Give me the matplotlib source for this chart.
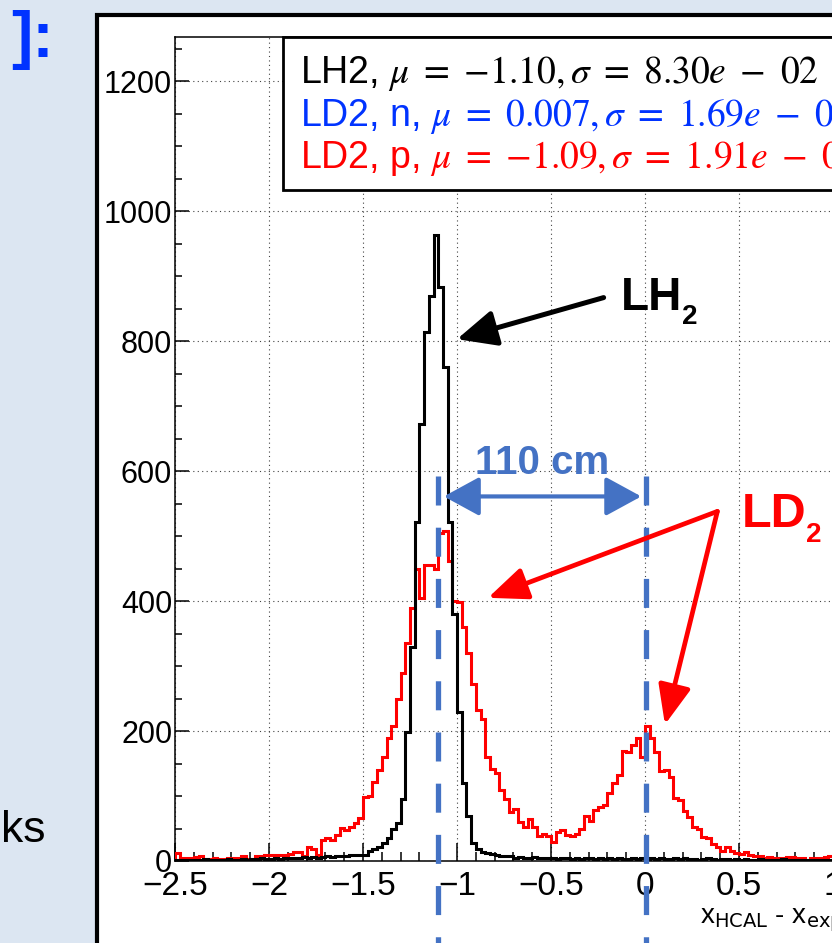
import numpy as np
import matplotlib.pyplot as plt
from matplotlib.patches import Rectangle
from matplotlib.ticker import MultipleLocator, FuncFormatter

plt.rcParams['mathtext.fontset'] = 'custom'
plt.rcParams['mathtext.rm'] = 'Liberation Sans Narrow'
plt.rcParams['mathtext.it'] = 'Liberation Sans Narrow:italic'

# histogram binning of x_HCAL - x_expect
bin_lo = -2.5
bin_w = 0.025

# LH2 counts per bin, -2.5 .. 1.0
lh2_counts = [
    2, 1, 2, 2, 1, 2, 3, 2, 1, 2, 2, 3, 2, 2, 3, 2, 3, 3, 4, 3,
    3, 4, 3, 4, 5, 4, 5, 6, 5, 6, 5, 6, 7, 6, 7, 8, 8, 9, 10, 10,
    10, 15, 18, 22, 28, 35, 50, 58, 95, 199, 330, 521, 672, 814, 870, 963, 883, 760, 522, 380,
    230, 120, 70, 28, 18, 14, 12, 11, 9, 8, 7, 8, 5, 6, 5, 4, 6, 5, 4, 5,
    4, 3, 5, 4, 3, 4, 3, 4, 5, 3, 4, 3, 4, 3, 4, 3, 3, 4, 3, 4,
    3, 4, 3, 4, 3, 3, 4, 3, 4, 3, 3, 2, 3, 4, 3, 2, 3, 3, 2, 3,
    2, 3, 2, 2, 3, 2, 2, 1, 2, 3, 2, 2, 1, 2, 2, 1, 2, 2, 1, 2,
]

# LD2 counts per bin (p peak + n peak), -2.5 .. 1.0
ld2_counts = [
    12, 5, 5, 4, 6, 7, 3, 3, 5, 3, 3, 4, 5, 5, 7, 3, 3, 7, 7, 10,
    10, 9, 10, 10, 11, 14, 14, 8, 22, 18, 10, 32, 35, 33, 40, 51, 47, 53, 58, 66,
    98, 100, 122, 140, 160, 190, 207, 250, 290, 335, 390, 450, 405, 455, 455, 450, 505, 508, 462, 400,
    398, 360, 320, 272, 232, 218, 160, 142, 135, 110, 95, 75, 80, 60, 52, 64, 52, 38, 41, 38,
    30, 45, 47, 40, 38, 42, 50, 70, 62, 78, 83, 86, 105, 120, 133, 170, 168, 178, 190, 160,
    207, 190, 168, 138, 140, 130, 97, 94, 77, 68, 52, 50, 37, 36, 26, 22, 15, 22, 15, 13,
    11, 14, 9, 8, 7, 5, 6, 5, 5, 5, 6, 6, 5, 4, 2, 5, 5, 5, 6, 8,
]

# fit results
lh2_mu = -1.10
ld2n_mu = 0.007
fit_lines = [
    (r'LH2, $\mu\ =\ {-}1.10, \sigma\ =\ 8.30e\ -\ 02$', 'black'),
    (r'LD2, n, $\mu\ =\ 0.007, \sigma\ =\ 1.69e\ -\ 01$', '#0033FF'),
    (r'LD2, p, $\mu\ =\ {-}1.09, \sigma\ =\ 1.91e\ -\ 01$', '#FF0000'),
]

blue = '#4472C4'
narrow = ['Liberation Sans Narrow', 'Liberation Sans', 'DejaVu Sans']

fig = plt.figure(figsize=(8.32, 9.43), dpi=100)
fig.patch.set_facecolor('#DCE6F2')

# white slide panel behind the ROOT canvas
fig.add_artist(Rectangle((97 / 832, -0.1), 1.0, 1.1 - 15 / 943, transform=fig.transFigure,
                         facecolor='white', edgecolor='black', lw=3, zorder=-1))
fig.text(54 / 832, 1 - 40 / 943, ']:', ha='right', va='center', fontsize=46,
         color='#0033FF', family='Liberation Sans', fontweight='bold')
fig.text(46 / 832, 1 - 830 / 943, 'ks', ha='right', va='center', fontsize=32,
         color='black', family='Liberation Sans')

ax = fig.add_axes([175 / 832, 82 / 943, 940 / 832, 824 / 943])
edges = bin_lo + bin_w * np.arange(len(lh2_counts) + 1)
ax.stairs(ld2_counts, edges, color='#FF0000', lw=2.2, baseline=0, zorder=3)
ax.stairs(lh2_counts, edges, color='black', lw=2.2, baseline=0, zorder=4)

ax.set_xlim(-2.5, 2.5)
ax.set_ylim(0, 1268)
ax.xaxis.set_major_locator(MultipleLocator(0.5))
ax.xaxis.set_minor_locator(MultipleLocator(0.1))
ax.yaxis.set_major_locator(MultipleLocator(200))
ax.yaxis.set_minor_locator(MultipleLocator(50))
ax.xaxis.set_major_formatter(FuncFormatter(lambda v, p: ('%g' % v).replace('-', '\u2212')))
ax.tick_params(axis='both', which='both', direction='in', top=False, right=False, width=1.1)
ax.tick_params(axis='x', which='major', length=13, labelsize=24, pad=7)
ax.tick_params(axis='x', which='minor', length=6.5)
ax.tick_params(axis='y', which='major', length=10, labelsize=22, pad=2)
ax.tick_params(axis='y', which='minor', length=5)
for lab in ax.get_xticklabels() + ax.get_yticklabels():
    lab.set_family(narrow)
for s in ax.spines.values():
    s.set_linewidth(1.1)
ax.grid(True, which='major', ls=(0, (1, 3)), color='#444444', lw=0.8)
ax.set_axisbelow(True)

fig.text(700 / 832, 1 - 918 / 943, r'x$_{\rm HCAL}$ - x$_{\rm expect}$ (m)', ha='left',
         va='center', fontsize=20, family=narrow)

# fit result box
ax.add_patch(Rectangle((0.115, 0.814), 0.9, 0.186, transform=ax.transAxes, facecolor='white',
                       edgecolor='black', lw=2, clip_on=False, zorder=6))
for i, (txt, col) in enumerate(fit_lines):
    ax.text(0.133, 0.9555 - 0.0515 * i, txt, transform=ax.transAxes, va='center', fontsize=27,
            color=col, family='Liberation Sans', math_fontfamily='stix', zorder=7)

# peak positions
for mu in (lh2_mu, ld2n_mu):
    ax.plot([mu, mu], [592, -150], color=blue, lw=3.8, ls=(0, (5.5, 4.2)), clip_on=False, zorder=5)

ax.annotate('', xy=(-1.07, 561), xytext=(-0.02, 561), annotation_clip=False,
            arrowprops=dict(arrowstyle='<|-|>,head_length=1.1,head_width=0.6', color=blue, lw=3,
                            mutation_scale=20, shrinkA=0, shrinkB=0), zorder=6)
ax.text(-0.545, 612, '110 cm', ha='center', va='center', fontsize=29, fontweight='bold',
        color=blue, family='Liberation Sans', zorder=6)

ax.annotate('', xy=(-1.0, 803), xytext=(-0.22, 867), annotation_clip=False,
            arrowprops=dict(arrowstyle='-|>,head_length=1.2,head_width=0.55', color='black', lw=3.6,
                            mutation_scale=20, shrinkA=0, shrinkB=0), zorder=6)
t_lh = ax.text(-0.13, 867, 'LH', ha='left', va='center', fontsize=33, fontweight='bold',
               family='Liberation Sans', zorder=6)
ax.annotate('2', xy=(1, 0.05), xycoords=t_lh, ha='left', va='center', fontsize=20,
            fontweight='bold', family='Liberation Sans', zorder=6)

for head in [(-0.835, 405), (0.106, 210)]:
    ax.annotate('', xy=head, xytext=(0.385, 538), annotation_clip=False,
                arrowprops=dict(arrowstyle='-|>,head_length=1.2,head_width=0.5', color='#FF0000',
                                lw=3.4, mutation_scale=20, shrinkA=0, shrinkB=0), zorder=6)
t_ld = ax.text(0.515, 533, 'LD', ha='left', va='center', fontsize=35, fontweight='bold',
               color='#FF0000', family='Liberation Sans', zorder=6)
ax.annotate('2', xy=(1, 0.05), xycoords=t_ld, ha='left', va='center', fontsize=20,
            fontweight='bold', color='#FF0000', family='Liberation Sans', zorder=6)

fig.savefig('out.png', dpi=100)
